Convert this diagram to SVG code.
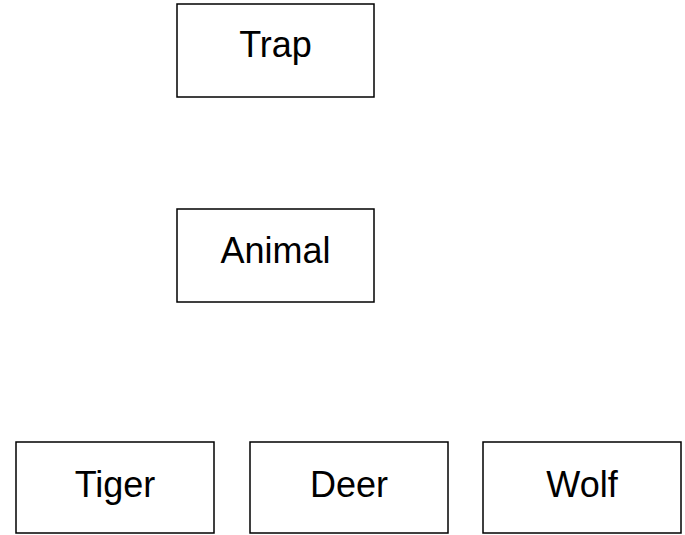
<svg xmlns="http://www.w3.org/2000/svg" width="685" height="535" viewBox="0 0 685 535">
<style>
.box{fill:#fff;stroke:#000;stroke-width:1.5}
.lbl{font-family:"Liberation Sans",Arial,sans-serif;font-size:36px;fill:#000;text-anchor:middle}
</style>
<rect width="685" height="535" fill="#fff"/>
<g id="connectors"></g>
<g id="trap"><rect class="box" x="177" y="4" width="197" height="93"/><text class="lbl" x="275.5" y="57">Trap</text></g>
<g id="animal"><rect class="box" x="177" y="209" width="197" height="93"/><text class="lbl" x="275.5" y="263">Animal</text></g>
<g id="tiger"><rect class="box" x="16" y="442" width="198" height="91"/><text class="lbl" x="115" y="497">Tiger</text></g>
<g id="deer"><rect class="box" x="250" y="442" width="198" height="91"/><text class="lbl" x="349" y="497">Deer</text></g>
<g id="wolf"><rect class="box" x="483" y="442" width="198" height="91"/><text class="lbl" x="582" y="497">Wolf</text></g>
</svg>
